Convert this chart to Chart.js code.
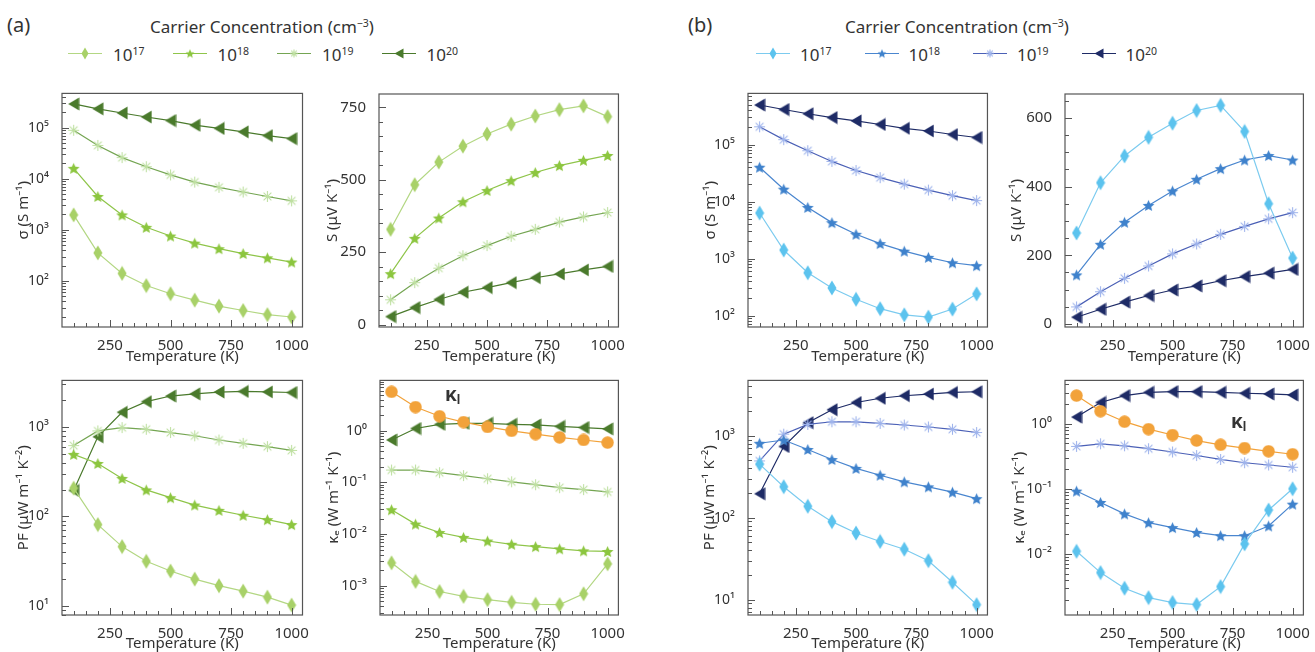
<!DOCTYPE html>
<html>
<head>
<meta charset="utf-8">
<script src="https://cdn.jsdelivr.net/npm/chart.js@4"></script>
<style>
  body { margin: 0; background: #fff; width: 1315px; height: 652px; position: relative; overflow: hidden;
         font-family: "Noto Sans", "DejaVu Sans", sans-serif; color: #333; }
  .t { position: absolute; white-space: nowrap; color: #333; line-height: 1; }
  .t sup { font-size: 0.62em; vertical-align: 0.55em; }
  .t sub { font-size: 0.62em; vertical-align: -0.25em; }
  canvas { position: absolute; }
</style>
</head>
<body>
<script>
// temperatures (K) shared by every panel
const temps = [100, 200, 300, 400, 500, 600, 700, 800, 900, 1000];
const tempTicks = [250, 500, 750, 1000];
const concExp = ['17', '18', '19', '20'];

// (a) series: 10^17, 10^18, 10^19, 10^20
const sigmaA = [
  [1960, 353, 140, 81, 56, 42, 32, 26.3, 21.8, 19.6],
  [16000, 4500, 1960, 1120, 757, 548, 427, 343, 283, 234],
  [89000, 45000, 26000, 17200, 11900, 8600, 6800, 5500, 4500, 3700],
  [292000, 234000, 194000, 162000, 138000, 112000, 97000, 83000, 70000, 61000]
];
const seebeckA = [
  [329, 483, 561, 616, 658, 692, 720, 742, 755, 718],
  [176, 298, 368, 424, 463, 497, 525, 549, 567, 584],
  [86, 145, 195, 238, 273, 305, 329, 354, 372, 387],
  [28, 59, 87, 112, 128, 145, 162, 175, 189, 201]
];
const pfA = [
  [207, 81, 46, 31.5, 24.5, 19.9, 16.8, 14.6, 12.5, 10.2],
  [494, 391, 266, 198, 162, 134, 117, 103, 92, 81],
  [620, 904, 985, 943, 867, 798, 715, 657, 604, 547],
  [195, 778, 1460, 1920, 2220, 2350, 2460, 2500, 2470, 2430]
];
const kappaEA = [
  [0.00277, 0.00121, 0.00077, 0.00062, 0.000535, 0.000476, 0.000436, 0.00043, 0.000695, 0.00265],
  [0.0296, 0.0156, 0.0107, 0.0086, 0.00733, 0.00633, 0.00572, 0.00517, 0.00473, 0.0046],
  [0.174, 0.174, 0.155, 0.136, 0.118, 0.103, 0.0904, 0.0793, 0.0727, 0.0656],
  [0.665, 1.11, 1.34, 1.40, 1.40, 1.34, 1.30, 1.22, 1.16, 1.09]
];
const kappaLA = [5.7, 2.89, 1.92, 1.48, 1.19, 1.0, 0.865, 0.748, 0.665, 0.593];

// (b) series: 10^17, 10^18, 10^19, 10^20
const sigmaB = [
  [6300, 1410, 563, 305, 193, 132, 103, 94, 130, 240],
  [40000, 16500, 7900, 4270, 2670, 1830, 1350, 1050, 844, 750],
  [205000, 122000, 78000, 50600, 35000, 26300, 20200, 15900, 12700, 10400],
  [494000, 412000, 347000, 297000, 260000, 225000, 193000, 173000, 150000, 133000]
];
const seebeckB = [
  [265, 411, 489, 543, 584, 621, 636, 560, 350, 192],
  [143, 232, 296, 345, 387, 421, 452, 477, 490, 477],
  [50, 94, 133, 169, 204, 233, 261, 284, 306, 324],
  [20, 43, 64, 83, 99, 111, 126, 138, 148, 159]
];
const pfB = [
  [451, 239, 138, 89.6, 65, 51.3, 41.3, 29.9, 16.3, 8.7],
  [810, 888, 681, 513, 400, 330, 274, 238, 205, 171],
  [494, 1047, 1377, 1482, 1482, 1416, 1353, 1280, 1200, 1096],
  [196, 740, 1443, 2080, 2545, 2870, 3080, 3230, 3380, 3445]
];
const kappaEB = [
  [0.011, 0.00519, 0.00299, 0.00214, 0.0018, 0.00168, 0.00316, 0.0143, 0.0473, 0.1],
  [0.0923, 0.0617, 0.0412, 0.0302, 0.0254, 0.0214, 0.0191, 0.0191, 0.0269, 0.0582],
  [0.447, 0.49, 0.457, 0.412, 0.367, 0.324, 0.282, 0.251, 0.232, 0.214],
  [1.26, 2.11, 2.69, 3.02, 3.09, 3.09, 3.02, 2.92, 2.85, 2.75]
];
const kappaLB = [2.69, 1.55, 1.07, 0.822, 0.668, 0.55, 0.473, 0.422, 0.376, 0.339];

// tick labels of the linear S axes
const seebeckTicksA = [0, 250, 500, 750];
const seebeckTicksB = [0, 200, 400, 600];

const greenLine = ['#b3d783', '#8fc54a', '#74a552', '#4a7a2c'];
const greenMark = ['#a8d168', '#8cc63f', '#bfe0a2', '#4a7a2c'];
const blueLine = ['#7ccbef', '#4a86cf', '#4b60b6', '#1e2b66'];
const blueMark = ['#5cc3ee', '#3f82cc', '#9fb4ec', '#1e2b66'];
const orange = '#f2a23a';
const shapes = ['diamond', 'star', 'asterisk', 'triLeft'];

const FONT = '"Noto Sans", "DejaVu Sans", sans-serif';
const TXT = '#333';

// marker glyphs as small canvases
function glyph(shape, color, k) {
  k = k || 1;
  const c = document.createElement('canvas');
  const g = c.getContext('2d');
  if (shape === 'diamond') {
    c.width = Math.round(10 * k); c.height = Math.round(16 * k);
    const w = c.width, h = c.height;
    g.fillStyle = color;
    g.beginPath(); g.moveTo(w / 2, 0.5); g.lineTo(w - 0.5, h / 2); g.lineTo(w / 2, h - 0.5); g.lineTo(0.5, h / 2); g.closePath(); g.fill();
  } else if (shape === 'star') {
    c.width = c.height = Math.round(13 * k);
    const r = c.width / 2 - 0.3, ri = r * 0.45, cx = c.width / 2, cy = c.height / 2 + 0.6 * k;
    g.fillStyle = color; g.beginPath();
    for (let i = 0; i < 10; i++) {
      const a = -Math.PI / 2 + i * Math.PI / 5, rr = i % 2 ? ri : r;
      g.lineTo(cx + rr * Math.cos(a), cy + rr * Math.sin(a));
    }
    g.closePath(); g.fill();
  } else if (shape === 'asterisk') {
    c.width = c.height = Math.round(13 * k);
    const r = c.width / 2 - 1, cx = c.width / 2, cy = c.height / 2;
    g.strokeStyle = color; g.lineWidth = 1.1; g.beginPath();
    for (let i = 0; i < 4; i++) {
      const a = i * Math.PI / 4;
      g.moveTo(cx - r * Math.cos(a), cy - r * Math.sin(a));
      g.lineTo(cx + r * Math.cos(a), cy + r * Math.sin(a));
    }
    g.stroke();
  } else if (shape === 'triLeft') {
    c.width = Math.round(12 * k); c.height = Math.round(14 * k);
    const w = c.width, h = c.height;
    g.fillStyle = color; g.beginPath();
    g.moveTo(0.5, h / 2); g.lineTo(w - 0.5, 0.5); g.lineTo(w - 0.5, h - 0.5); g.closePath(); g.fill();
  } else if (shape === 'circle') {
    c.width = c.height = Math.round(13 * k);
    g.fillStyle = color; g.beginPath();
    g.arc(c.width / 2, c.height / 2, c.width / 2 - 0.3, 0, Math.PI * 2); g.fill();
  }
  return c;
}

const supMap = { '-': '⁻', '0': '⁰', '1': '¹', '2': '²', '3': '³', '4': '⁴', '5': '⁵', '6': '⁶', '7': '⁷', '8': '⁸', '9': '⁹' };
const sup = n => String(n).split('').map(ch => supMap[ch]).join('');

// frame around the plot area with inward major and minor ticks
const frameTicks = {
  id: 'frameTicks',
  afterDraw(chart) {
    const { ctx, chartArea: a, scales } = chart;
    const x = scales.x, y = scales.y;
    ctx.save();
    ctx.strokeStyle = '#555';
    ctx.lineWidth = 1.2;
    ctx.strokeRect(a.left, a.top, a.right - a.left, a.bottom - a.top);
    ctx.lineWidth = 1;
    ctx.beginPath();
    for (let v = 50; v <= x.max; v += 50) {
      if (v < x.min) continue;
      const px = Math.round(x.getPixelForValue(v)) + 0.5;
      const len = v % 250 === 0 ? 7 : 4;
      ctx.moveTo(px, a.bottom); ctx.lineTo(px, a.bottom - len);
    }
    if (y.type === 'logarithmic') {
      for (let n = Math.floor(Math.log10(y.min)); n <= Math.ceil(Math.log10(y.max)); n++) {
        for (let k = 1; k <= 9; k++) {
          const v = k * Math.pow(10, n);
          if (v < y.min || v > y.max) continue;
          const py = Math.round(y.getPixelForValue(v)) + 0.5;
          ctx.moveTo(a.left, py); ctx.lineTo(a.left + (k === 1 ? 7 : 4), py);
        }
      }
    } else {
      const major = y.ticks.map(t => t.value);
      for (let v = 0; v <= y.max; v += 50) {
        if (v < y.min) continue;
        const py = Math.round(y.getPixelForValue(v)) + 0.5;
        ctx.moveTo(a.left, py); ctx.lineTo(a.left + (major.includes(v) ? 7 : 4), py);
      }
    }
    ctx.stroke();
    ctx.restore();
  }
};

function series(vals, lineColor, markColor, shape) {
  return {
    data: temps.map((t, i) => ({ x: t, y: vals[i] })),
    borderColor: lineColor,
    borderWidth: 1.2,
    pointStyle: glyph(shape, markColor),
    pointRadius: 4,
    tension: 0,
    fill: false
  };
}

function decades(min, max) {
  const out = [];
  for (let n = Math.ceil(Math.log10(min)); n <= Math.floor(Math.log10(max)); n++) out.push(n);
  return out;
}

function panel(p) {
  const left = Math.round(p.titleX - 8.4);
  const cv = document.createElement('canvas');
  cv.width = p.plotR - left + 4;
  cv.height = 285;
  cv.style.left = left + 'px';
  cv.style.top = p.top + 'px';
  document.body.appendChild(cv);
  const yW = p.plotL - left;
  const datasets = [];
  if (p.kappaL) datasets.push(series(p.kappaL, orange, orange, 'circle'));
  p.sets.forEach((vals, i) => datasets.push(series(vals, p.lines[i], p.marks[i], shapes[i])));
  const xFont = { family: FONT, size: 15 };
  const yFont = { family: FONT, size: p.log ? 14 : 15 };
  const titleFont = { family: FONT, size: 15, lineHeight: 1.12 };
  const yTickValues = p.log ? decades(p.min, p.max).map(n => Math.pow(10, n)) : p.yTicks;
  new Chart(cv, {
    type: 'line',
    data: { datasets },
    options: {
      responsive: false,
      animation: false,
      devicePixelRatio: 1,
      layout: { padding: { top: 8, right: 4, left: 0, bottom: 0 } },
      plugins: { legend: { display: false }, tooltip: { enabled: false } },
      scales: {
        x: {
          type: 'linear', min: 52, max: 1045,
          afterBuildTicks: s => { s.ticks = tempTicks.map(v => ({ value: v })); },
          afterFit: s => { s.height = p.xH; },
          grid: { display: false }, border: { display: false },
          ticks: { autoSkip: false, maxRotation: 0, padding: 2, color: TXT, font: xFont,
                   callback: v => String(v) },
          title: { display: true, text: 'Temperature (K)', color: TXT, font: titleFont, padding: 0 }
        },
        y: {
          type: p.log ? 'logarithmic' : 'linear', min: p.min, max: p.max,
          afterBuildTicks: s => { s.ticks = yTickValues.map(v => ({ value: v })); },
          afterFit: s => { s.width = yW; },
          grid: { display: false }, border: { display: false },
          ticks: { autoSkip: false, padding: 5, color: TXT, font: yFont,
                   callback: v => p.log ? '10' + sup(Math.round(Math.log10(v))) : String(v) },
          title: { display: true, text: p.title, color: TXT, font: titleFont, padding: 0 }
        }
      }
    },
    plugins: [frameTicks]
  });
}

const TOP1 = 80, TOP2 = 367;
const sigTitle = 'σ (S m⁻¹)', sTitle = 'S (μV K⁻¹)', pfTitle = 'PF (μW m⁻¹ K⁻²)', keTitle = 'κₑ (W m⁻¹ K⁻¹)';

panel({ sets: sigmaA, lines: greenLine, marks: greenMark, log: true, min: 12.5, max: 4.7e5, title: sigTitle,
        titleX: 23, plotL: 62, plotR: 307, top: TOP1, xH: 38 });
panel({ sets: seebeckA, lines: greenLine, marks: greenMark, log: false, min: -8, max: 796, yTicks: seebeckTicksA, title: sTitle,
        titleX: 332, plotL: 379, plotR: 623, top: TOP1, xH: 38 });
panel({ sets: pfA, lines: greenLine, marks: greenMark, log: true, min: 7.9, max: 3320, title: pfTitle,
        titleX: 23, plotL: 62, plotR: 307, top: TOP2, xH: 37 });
panel({ sets: kappaEA, kappaL: kappaLA, lines: greenLine, marks: greenMark, log: true, min: 2.7e-4, max: 9.5, title: keTitle,
        titleX: 333, plotL: 380, plotR: 623, top: TOP2, xH: 37 });
panel({ sets: sigmaB, lines: blueLine, marks: blueMark, log: true, min: 63, max: 7.9e5, title: sigTitle,
        titleX: 710, plotL: 748, plotR: 992, top: TOP1, xH: 38 });
panel({ sets: seebeckB, lines: blueLine, marks: blueMark, log: false, min: -8.5, max: 669, yTicks: seebeckTicksB, title: sTitle,
        titleX: 1016, plotL: 1065, plotR: 1308, top: TOP1, xH: 38 });
panel({ sets: pfB, lines: blueLine, marks: blueMark, log: true, min: 6.5, max: 4740, title: pfTitle,
        titleX: 709, plotL: 748, plotR: 992, top: TOP2, xH: 37 });
panel({ sets: kappaEB, kappaL: kappaLB, lines: blueLine, marks: blueMark, log: true, min: 1.16e-3, max: 4.6, title: keTitle,
        titleX: 1019, plotL: 1065, plotR: 1308, top: TOP2, xH: 37 });

// headers and legends
function text(html, left, top, size, extra) {
  const d = document.createElement('div');
  d.className = 't';
  d.innerHTML = html;
  d.style.left = left + 'px';
  d.style.top = top + 'px';
  d.style.fontSize = size + 'px';
  if (extra) d.style.cssText += extra;
  document.body.appendChild(d);
}

function legend(x0, labelX0, gap, lines, marks) {
  concExp.forEach((e, i) => {
    const c = document.createElement('canvas');
    c.width = 34; c.height = 16;
    c.style.left = (x0 + i * gap) + 'px';
    c.style.top = '45px';
    const g = c.getContext('2d');
    g.strokeStyle = lines[i]; g.lineWidth = 1.2;
    g.beginPath(); g.moveTo(0, 8.5); g.lineTo(34, 8.5); g.stroke();
    const m = glyph(shapes[i], marks[i], 0.8);
    g.drawImage(m, 17 - m.width / 2, 8.5 - m.height / 2);
    document.body.appendChild(c);
    text('10<sup>' + e + '</sup>', labelX0 + i * gap, 46, 17);
  });
}

text('(a)', 7, 15, 20);
text('Carrier Concentration (cm<sup>−3</sup>)', 262, 18, 17, 'transform:translateX(-50%);');
legend(68, 113, 104.5, greenLine, greenMark);

text('(b)', 688, 15, 20);
text('Carrier Concentration (cm<sup>−3</sup>)', 957, 18, 17, 'transform:translateX(-50%);');
legend(756, 800, 108.5, blueLine, blueMark);

text('κ<sub>l</sub>', 445, 385, 19, 'font-weight:bold;');
text('κ<sub>l</sub>', 1231, 412, 19, 'font-weight:bold;');
</script>
</body>
</html>
